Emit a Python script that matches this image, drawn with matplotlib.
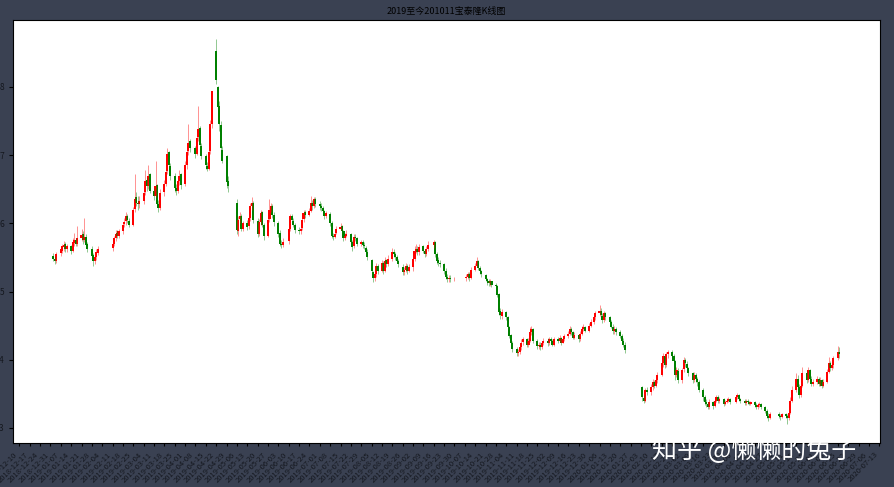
import numpy as np
import pandas as pd
import matplotlib
matplotlib.use('Agg')
import matplotlib.pyplot as plt
import matplotlib.dates as mdates

plt.rcParams['font.family'] = ['Noto Sans CJK SC', 'DejaVu Sans']
plt.rcParams['axes.unicode_minus'] = False

title = '2019至今201011宝泰隆K线图'
watermark = '知乎 @懒懒的兔子'

# exchange holidays that fall on weekdays
holidays = ['2019-01-01', '2019-02-04', '2019-02-05', '2019-02-06', '2019-02-07',
            '2019-02-08', '2019-04-05', '2019-05-01', '2019-05-02', '2019-05-03',
            '2019-06-07', '2019-09-13', '2019-10-01', '2019-10-02', '2019-10-03',
            '2019-10-04', '2019-10-07', '2020-01-01', '2020-01-24', '2020-01-27',
            '2020-01-28', '2020-01-29', '2020-01-30', '2020-01-31', '2020-04-06',
            '2020-05-01', '2020-05-04', '2020-05-05']

# daily prices, one row per month (2019-01 .. 2020-06)
close = [
    5.48, 5.45, 5.55, 5.62, 5.66, 5.68, 5.63, 5.66, 5.60, 5.72, 5.75, 5.70, 5.78, 5.83, 5.76, 5.80, 5.68, 5.62, 5.52, 5.45, 5.50, 5.58,
    5.62, 5.70, 5.78, 5.85, 5.82, 5.88, 5.98, 6.02, 6.10, 6.05, 5.98, 6.20, 6.35, 6.30, 6.28,
    6.32, 6.45, 6.62, 6.55, 6.70, 6.48, 6.40, 6.55, 6.28, 6.22, 6.45, 6.58, 6.75, 7.02, 6.85, 6.70, 6.52, 6.48, 6.62, 6.70, 6.56,
    6.85, 7.05, 7.18, 7.10, 7.02, 7.25, 7.38, 7.15, 6.98, 6.85, 6.80, 7.05, 7.45, 7.94, 8.10, 7.70, 7.45, 7.10, 6.92, 6.60, 6.55,
    5.90, 6.05, 6.10, 5.92, 6.00, 5.95, 6.08, 6.25, 6.30, 6.05, 5.85, 6.02, 6.15, 5.98, 5.82, 6.05, 6.20, 6.25, 6.12, 6.02,
    5.85, 5.70, 5.68, 5.72, 5.92, 6.10, 6.05, 5.98, 5.90, 5.88, 5.92, 6.05, 6.15, 6.12, 6.18, 6.30, 6.25, 6.35, 6.28,
    6.25, 6.22, 6.18, 6.10, 6.15, 6.00, 5.82, 5.80, 5.85, 5.92, 5.95, 5.88, 5.78, 5.82, 5.85, 5.72, 5.65, 5.80, 5.78, 5.70, 5.72, 5.68, 5.66,
    5.58, 5.50, 5.30, 5.20, 5.25, 5.38, 5.30, 5.42, 5.30, 5.45, 5.40, 5.48, 5.58, 5.55, 5.50, 5.45, 5.40, 5.28, 5.32, 5.38, 5.30, 5.36,
    5.48, 5.60, 5.62, 5.58, 5.65, 5.60, 5.55, 5.62, 5.68, 5.72, 5.55, 5.45, 5.42, 5.40, 5.30, 5.22, 5.18, 5.20, 5.18, 5.19,
    5.22, 5.25, 5.20, 5.32, 5.38, 5.45, 5.35, 5.30, 5.25, 5.18, 5.15, 5.12, 5.15, 5.10, 5.08, 4.95, 4.70, 4.65,
    4.70, 4.62, 4.48, 4.35, 4.25, 4.15, 4.10, 4.12, 4.18, 4.25, 4.30, 4.22, 4.28, 4.40, 4.45, 4.28, 4.20, 4.22, 4.18, 4.25, 4.28,
    4.25, 4.30, 4.28, 4.22, 4.30, 4.28, 4.32, 4.25, 4.30, 4.35, 4.38, 4.45, 4.40, 4.32, 4.36, 4.30, 4.38, 4.45, 4.48, 4.42, 4.50, 4.55,
    4.62, 4.68, 4.72, 4.65, 4.58, 4.68, 4.62, 4.55, 4.48, 4.42, 4.45, 4.40, 4.35, 4.28, 4.22, 4.14,
    3.73, 3.45, 3.40, 3.55, 3.52, 3.60, 3.68, 3.62, 3.70, 3.78, 3.95, 4.05, 3.92, 4.08, 4.12, 4.05, 3.98, 3.78, 3.85, 3.70,
    3.85, 4.00, 3.95, 3.88, 3.80, 3.70, 3.78, 3.72, 3.68, 3.55, 3.45, 3.38, 3.35, 3.30, 3.38, 3.32, 3.40, 3.45, 3.40, 3.42, 3.35, 3.38,
    3.40, 3.42, 3.38, 3.45, 3.48, 3.42, 3.40, 3.36, 3.40, 3.38, 3.35, 3.38, 3.34, 3.30, 3.33, 3.35, 3.30, 3.25, 3.18, 3.15, 3.20,
    3.18, 3.16, 3.20, 3.18, 3.15, 3.22, 3.40, 3.55, 3.72, 3.60, 3.48, 3.62, 3.80, 3.70, 3.85, 3.72, 3.65, 3.68,
    3.72, 3.65, 3.70, 3.62, 3.68, 3.82, 3.95, 3.88, 3.92, 4.02, 4.12, 4.08,
]
open_ = [
    5.52, 5.48, 5.44, 5.56, 5.60, 5.65, 5.69, 5.62, 5.66, 5.60, 5.71, 5.76, 5.70, 5.78, 5.85, 5.75, 5.80, 5.69, 5.62, 5.53, 5.44, 5.50,
    5.57, 5.64, 5.70, 5.78, 5.86, 5.81, 5.88, 5.99, 6.03, 6.11, 6.04, 5.98, 6.21, 6.38, 6.30,
    6.28, 6.33, 6.46, 6.64, 6.54, 6.72, 6.48, 6.40, 6.56, 6.28, 6.22, 6.46, 6.58, 6.76, 7.04, 6.84, 6.70, 6.52, 6.48, 6.62, 6.72,
    6.58, 6.86, 7.06, 7.20, 7.10, 7.02, 7.26, 7.40, 7.14, 6.98, 6.84, 6.80, 7.06, 7.46, 8.52, 8.00, 7.72, 7.44, 7.08, 6.98, 6.62,
    6.30, 5.88, 6.06, 6.10, 5.92, 6.00, 5.96, 6.08, 6.26, 6.30, 6.04, 5.85, 6.02, 6.16, 5.98, 5.82, 6.06, 6.20, 6.26, 6.12,
    6.00, 5.86, 5.70, 5.68, 5.74, 5.92, 6.10, 6.04, 5.98, 5.90, 5.88, 5.93, 6.06, 6.16, 6.12, 6.18, 6.30, 6.26, 6.36,
    6.28, 6.26, 6.22, 6.18, 6.10, 6.14, 6.00, 5.82, 5.80, 5.86, 5.92, 5.96, 5.88, 5.78, 5.82, 5.84, 5.72, 5.66, 5.80, 5.78, 5.70, 5.72, 5.68,
    5.64, 5.58, 5.46, 5.28, 5.20, 5.26, 5.38, 5.30, 5.42, 5.30, 5.46, 5.40, 5.48, 5.58, 5.55, 5.50, 5.45, 5.36, 5.28, 5.32, 5.38, 5.30,
    5.36, 5.48, 5.60, 5.62, 5.58, 5.66, 5.60, 5.55, 5.62, 5.68, 5.72, 5.55, 5.46, 5.42, 5.40, 5.30, 5.22, 5.18, 5.20, 5.18,
    5.20, 5.22, 5.26, 5.20, 5.32, 5.38, 5.44, 5.35, 5.30, 5.24, 5.18, 5.15, 5.12, 5.15, 5.10, 5.08, 4.96, 4.72,
    4.64, 4.70, 4.62, 4.48, 4.36, 4.25, 4.16, 4.10, 4.12, 4.18, 4.26, 4.30, 4.22, 4.28, 4.40, 4.45, 4.28, 4.20, 4.22, 4.18, 4.25,
    4.28, 4.25, 4.30, 4.28, 4.22, 4.30, 4.28, 4.32, 4.25, 4.30, 4.35, 4.38, 4.45, 4.40, 4.32, 4.36, 4.30, 4.38, 4.45, 4.48, 4.42, 4.50,
    4.56, 4.62, 4.68, 4.72, 4.64, 4.58, 4.68, 4.62, 4.55, 4.48, 4.42, 4.45, 4.40, 4.35, 4.28, 4.22,
    3.73, 3.60, 3.44, 3.40, 3.56, 3.52, 3.60, 3.68, 3.62, 3.70, 3.78, 3.95, 4.05, 3.92, 4.08, 4.12, 4.05, 3.98, 3.78, 3.84,
    3.70, 3.86, 4.00, 3.94, 3.88, 3.80, 3.70, 3.78, 3.72, 3.68, 3.55, 3.45, 3.38, 3.35, 3.30, 3.38, 3.32, 3.40, 3.45, 3.40, 3.42, 3.35,
    3.38, 3.40, 3.42, 3.38, 3.45, 3.48, 3.42, 3.40, 3.36, 3.40, 3.38, 3.35, 3.38, 3.34, 3.30, 3.33, 3.35, 3.30, 3.25, 3.18, 3.15,
    3.20, 3.18, 3.16, 3.20, 3.18, 3.15, 3.22, 3.40, 3.55, 3.72, 3.60, 3.48, 3.62, 3.80, 3.70, 3.85, 3.72, 3.65,
    3.68, 3.72, 3.65, 3.70, 3.62, 3.68, 3.82, 3.95, 3.88, 3.92, 4.02, 4.12,
]
high = [
    5.56, 5.52, 5.58, 5.66, 5.70, 5.74, 5.72, 5.70, 5.68, 5.78, 5.86, 5.78, 5.96, 5.92, 5.88, 6.08, 5.84, 5.72, 5.66, 5.56, 5.55, 5.62,
    5.66, 5.74, 5.82, 5.90, 5.90, 5.92, 6.02, 6.08, 6.16, 6.14, 6.08, 6.24, 6.73, 6.46, 6.40,
    6.40, 6.52, 6.78, 6.68, 6.86, 6.74, 6.52, 6.92, 6.58, 6.34, 6.50, 6.64, 6.84, 7.10, 7.06, 6.88, 6.74, 6.58, 6.70, 6.78, 6.74,
    6.92, 7.12, 7.46, 7.24, 7.14, 7.32, 7.72, 7.42, 7.18, 7.02, 6.90, 7.10, 7.52, 7.94, 8.70, 8.02, 7.80, 7.50, 7.14, 7.00, 6.70,
    6.36, 6.10, 6.16, 6.14, 6.04, 6.05, 6.12, 6.30, 6.38, 6.32, 6.08, 6.06, 6.20, 6.18, 6.00, 6.10, 6.36, 6.30, 6.28, 6.16,
    6.04, 5.90, 5.76, 5.78, 5.96, 6.14, 6.14, 6.08, 6.00, 5.94, 5.96, 6.10, 6.20, 6.20, 6.22, 6.40, 6.34, 6.38, 6.38,
    6.32, 6.30, 6.26, 6.20, 6.18, 6.16, 6.04, 5.86, 5.88, 5.96, 6.00, 5.98, 5.90, 5.86, 5.90, 5.86, 5.76, 5.84, 5.84, 5.80, 5.76, 5.76, 5.72,
    5.66, 5.62, 5.48, 5.30, 5.30, 5.42, 5.40, 5.46, 5.44, 5.50, 5.48, 5.54, 5.64, 5.62, 5.58, 5.54, 5.48, 5.40, 5.36, 5.42, 5.40, 5.40,
    5.52, 5.66, 5.70, 5.66, 5.70, 5.68, 5.62, 5.66, 5.74, 5.76, 5.74, 5.58, 5.50, 5.46, 5.42, 5.34, 5.26, 5.24, 5.24, 5.22,
    5.26, 5.28, 5.28, 5.36, 5.42, 5.50, 5.46, 5.38, 5.32, 5.26, 5.20, 5.18, 5.18, 5.16, 5.13, 5.10, 4.98, 4.76,
    4.74, 4.72, 4.64, 4.50, 4.38, 4.28, 4.18, 4.16, 4.22, 4.30, 4.34, 4.32, 4.32, 4.48, 4.50, 4.46, 4.30, 4.26, 4.26, 4.28, 4.32,
    4.32, 4.34, 4.34, 4.30, 4.33, 4.34, 4.36, 4.34, 4.33, 4.38, 4.42, 4.50, 4.48, 4.42, 4.40, 4.38, 4.42, 4.50, 4.52, 4.50, 4.54, 4.60,
    4.66, 4.72, 4.80, 4.76, 4.68, 4.72, 4.70, 4.64, 4.58, 4.52, 4.50, 4.48, 4.44, 4.38, 4.32, 4.26,
    3.73, 3.62, 3.48, 3.58, 3.60, 3.64, 3.72, 3.70, 3.74, 3.82, 4.00, 4.10, 4.06, 4.12, 4.14, 4.14, 4.08, 4.00, 3.90, 3.88,
    3.88, 4.04, 4.02, 3.98, 3.90, 3.82, 3.82, 3.80, 3.74, 3.70, 3.58, 3.48, 3.42, 3.38, 3.42, 3.40, 3.44, 3.48, 3.48, 3.46, 3.44, 3.41,
    3.44, 3.46, 3.44, 3.48, 3.51, 3.50, 3.44, 3.42, 3.42, 3.42, 3.40, 3.40, 3.40, 3.36, 3.36, 3.38, 3.37, 3.32, 3.27, 3.22, 3.23,
    3.23, 3.21, 3.22, 3.22, 3.20, 3.25, 3.45, 3.62, 3.80, 3.78, 3.64, 3.66, 3.90, 3.84, 3.90, 3.86, 3.76, 3.72,
    3.76, 3.75, 3.74, 3.72, 3.72, 3.86, 4.04, 3.98, 3.96, 4.06, 4.20, 4.18,
]
low = [
    5.44, 5.40, 5.42, 5.52, 5.56, 5.60, 5.58, 5.58, 5.55, 5.58, 5.66, 5.66, 5.66, 5.74, 5.70, 5.72, 5.64, 5.58, 5.48, 5.38, 5.40, 5.46,
    5.54, 5.60, 5.66, 5.74, 5.78, 5.78, 5.85, 5.94, 5.98, 6.00, 5.94, 5.96, 6.16, 6.26, 6.20,
    6.22, 6.28, 6.42, 6.48, 6.50, 6.44, 6.34, 6.38, 6.24, 6.16, 6.20, 6.40, 6.54, 6.72, 6.80, 6.64, 6.46, 6.42, 6.44, 6.56, 6.50,
    6.54, 6.80, 7.00, 7.04, 6.96, 7.00, 7.20, 7.10, 6.94, 6.80, 6.76, 6.78, 7.02, 7.40, 8.05, 7.62, 7.36, 7.02, 6.88, 6.52, 6.46,
    5.84, 5.82, 6.00, 5.88, 5.88, 5.90, 5.92, 6.04, 6.20, 6.00, 5.80, 5.82, 5.98, 5.94, 5.76, 5.80, 6.02, 6.16, 6.08, 5.96,
    5.80, 5.66, 5.64, 5.65, 5.70, 5.88, 6.00, 5.94, 5.86, 5.84, 5.85, 5.90, 6.02, 6.08, 6.10, 6.16, 6.20, 6.22, 6.24,
    6.20, 6.18, 6.14, 6.06, 6.08, 5.96, 5.78, 5.76, 5.78, 5.84, 5.90, 5.84, 5.74, 5.76, 5.80, 5.68, 5.60, 5.64, 5.74, 5.66, 5.66, 5.64, 5.62,
    5.54, 5.46, 5.26, 5.14, 5.16, 5.22, 5.26, 5.28, 5.26, 5.28, 5.36, 5.38, 5.44, 5.50, 5.46, 5.42, 5.36, 5.24, 5.24, 5.28, 5.26, 5.28,
    5.30, 5.44, 5.56, 5.54, 5.54, 5.56, 5.50, 5.52, 5.60, 5.64, 5.50, 5.40, 5.38, 5.36, 5.26, 5.18, 5.14, 5.14, 5.14, 5.15,
    5.16, 5.18, 5.16, 5.18, 5.30, 5.36, 5.32, 5.26, 5.22, 5.15, 5.10, 5.08, 5.08, 5.06, 5.04, 4.92, 4.66, 4.60,
    4.60, 4.58, 4.44, 4.32, 4.22, 4.12, 4.05, 4.06, 4.08, 4.14, 4.22, 4.18, 4.18, 4.26, 4.36, 4.24, 4.16, 4.16, 4.14, 4.16, 4.22,
    4.20, 4.22, 4.24, 4.20, 4.20, 4.24, 4.26, 4.22, 4.24, 4.28, 4.32, 4.36, 4.36, 4.30, 4.30, 4.26, 4.28, 4.36, 4.42, 4.40, 4.40, 4.48,
    4.52, 4.58, 4.64, 4.62, 4.54, 4.56, 4.58, 4.52, 4.46, 4.38, 4.38, 4.36, 4.32, 4.24, 4.18, 4.10,
    3.73, 3.40, 3.36, 3.38, 3.48, 3.48, 3.56, 3.58, 3.60, 3.66, 3.76, 3.90, 3.88, 3.90, 4.02, 4.00, 3.92, 3.70, 3.74, 3.66,
    3.66, 3.82, 3.90, 3.84, 3.76, 3.66, 3.68, 3.68, 3.62, 3.52, 3.40, 3.34, 3.30, 3.28, 3.28, 3.28, 3.30, 3.38, 3.36, 3.37, 3.32, 3.33,
    3.36, 3.38, 3.35, 3.36, 3.42, 3.40, 3.37, 3.34, 3.34, 3.35, 3.33, 3.33, 3.31, 3.28, 3.28, 3.30, 3.28, 3.22, 3.15, 3.10, 3.13,
    3.14, 3.12, 3.14, 3.14, 3.06, 3.12, 3.20, 3.38, 3.52, 3.56, 3.44, 3.46, 3.60, 3.66, 3.68, 3.68, 3.62, 3.62,
    3.64, 3.62, 3.62, 3.58, 3.60, 3.66, 3.80, 3.84, 3.85, 3.88, 4.00, 4.02,
]

days = pd.bdate_range('2019-01-02', '2020-06-16')
days = days[~days.isin(pd.to_datetime(holidays))]
assert len(days) == len(close) == len(open_) == len(high) == len(low)

t = mdates.date2num(days.to_pydatetime())
o = np.array(open_)
c = np.array(close)
h = np.array(high)
l = np.array(low)
up = c >= o
colors = np.where(up, 'r', 'g')

fig = plt.figure(figsize=(8.94, 4.87), dpi=100, facecolor='#3a4152')
ax = fig.add_axes([0.0145, 0.0903, 0.9695, 0.8687])
ax.set_facecolor('white')

# wicks then bodies, like mpl_finance candlestick_ohlc
ax.vlines(t, l, h, colors=colors, linewidth=0.5, alpha=0.6)
ax.bar(t, np.abs(c - o), bottom=np.minimum(o, c), width=1.4,
       color=colors, linewidth=0)
ax.autoscale_view()
ax.margins(x=0.05, y=0.05)

ax.xaxis.set_major_locator(mdates.WeekdayLocator(mdates.MONDAY))
ax.xaxis.set_major_formatter(mdates.DateFormatter('%Y-%m-%d'))
plt.setp(ax.get_xticklabels(), rotation=45, ha='right', fontsize=5.5,
         color='#15181f')
ax.tick_params(axis='y', labelsize=6, length=3, labelcolor='#15181f')
ax.tick_params(axis='x', length=2)
ax.set_yticks([3, 4, 5, 6, 7, 8])
ax.set_title(title, fontsize=6.5, pad=4)

fig.text(0.729, 0.074, watermark, color='white', fontsize=18, va='center')

plt.savefig('out.png', facecolor=fig.get_facecolor())
